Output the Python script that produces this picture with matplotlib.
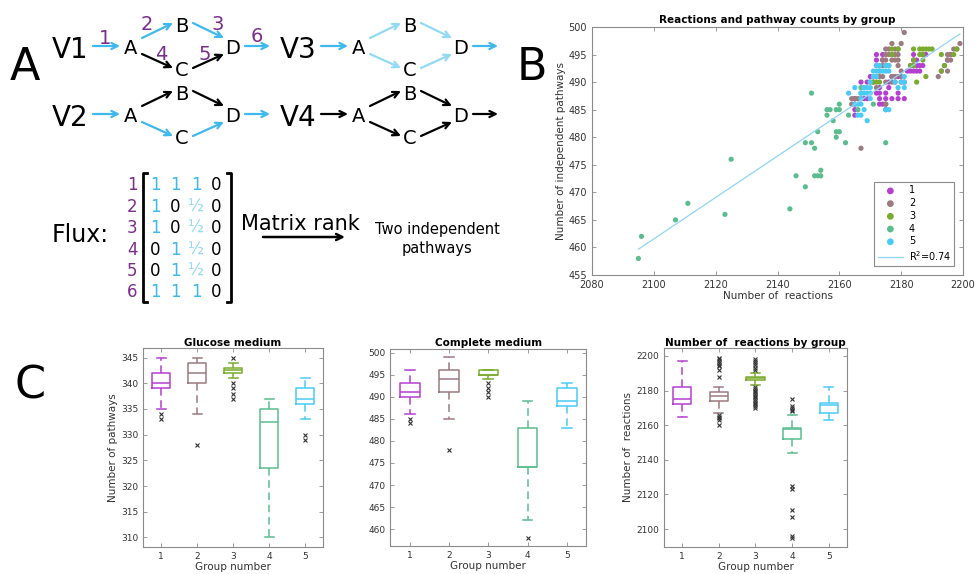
import numpy as np
import matplotlib
matplotlib.use('Agg')
import matplotlib.pyplot as plt

plt.rcParams['font.family'] = 'DejaVu Sans'

group_labels = ['1', '2', '3', '4', '5']
group_colors = ['#B53FD1', '#9C7A7F', '#79AB2C', '#5BBD8E', '#4ACBF7']
fit_label = r'R$^2$=0.74'

# Panel B: number of reactions for each pathway count, per group
g1_rows = {495: [2172, 2174, 2184, 2187, 2188, 2196], 494: [2172, 2174, 2184, 2185, 2195],
           493: [2183, 2184, 2185, 2186, 2187, 2194], 492: [2182, 2183, 2184, 2185, 2186, 2193],
           491: [2170, 2172, 2177, 2179], 490: [2167, 2169, 2171, 2176, 2178, 2181],
           489: [2173, 2176], 488: [2172, 2173, 2175, 2179],
           487: [2165, 2168, 2169, 2173, 2175, 2177, 2179, 2181], 486: [2165, 2173, 2174, 2175],
           485: [2165, 2175], 484: [2165]}
g2_rows = {499: [2181], 497: [2177, 2180, 2199], 496: [2175, 2176, 2178, 2179, 2197, 2198],
           495: [2175, 2176, 2177, 2178, 2179, 2195, 2196], 494: [2174, 2175, 2177, 2178, 2179, 2195, 2196],
           493: [2172, 2174, 2175, 2176, 2179], 492: [2173, 2180, 2195],
           491: [2173, 2174, 2177, 2178, 2180, 2192], 490: [2175, 2177, 2180], 489: [2172],
           487: [2164, 2165, 2166, 2167], 486: [2164, 2175], 478: [2167]}
g3_rows = {496: [2177, 2179, 2184, 2186, 2187, 2188, 2189, 2190, 2198], 495: [2177, 2186, 2187, 2193, 2197],
           494: [2184, 2187], 493: [2183, 2184, 2194], 492: [2193], 491: [2188],
           490: [2170, 2171, 2172, 2173, 2185], 489: [2168]}
g4_x = [2095, 2096, 2107, 2111, 2123, 2125, 2144, 2146, 2149, 2149, 2151, 2152, 2153, 2152, 2153,
        2154, 2154, 2151, 2156, 2157, 2156, 2158, 2159, 2160, 2159, 2159, 2160, 2160, 2162, 2163,
        2166, 2171, 2175, 2167, 2167]
g4_y = [458, 462, 465, 468, 466, 476, 467, 473, 471, 479, 479, 478, 481, 473, 473,
        473, 474, 488, 485, 485, 484, 483, 481, 481, 480, 485, 485, 486, 479, 484,
        485, 486, 479, 488, 489]
g5_rows = {493: [2172, 2173, 2175, 2176], 492: [2171, 2172, 2173, 2174, 2175, 2176],
           491: [2171, 2172, 2181], 490: [2170, 2178, 2180, 2181],
           489: [2165, 2168, 2169, 2170, 2179, 2181], 488: [2163, 2167, 2168, 2169, 2170],
           487: [2167, 2170], 486: [2165, 2166, 2167], 485: [2168, 2175, 2176],
           484: [2166, 2167], 483: [2169]}

# Panel C: box statistics per group
glucose_q1 = [339, 340, 342, 323.5, 336]
glucose_med = [340, 342, 342.5, 332.5, 337]
glucose_q3 = [342, 344, 343, 335, 339]
glucose_lo = [335, 334, 341, 310, 333]
glucose_hi = [345, 345, 344, 337, 341]
glucose_fliers = [[334, 333], [328], [345, 340, 339, 338, 337], [], [330, 329]]

complete_q1 = [490, 491, 495, 474, 488]
complete_med = [491, 494, 495, 474, 489]
complete_q3 = [493, 496, 496, 483, 492]
complete_lo = [486, 485, 494, 462, 483]
complete_hi = [496, 499, 496, 489, 493]
complete_fliers = [[485, 484], [478], [493, 492, 491, 490], [458], []]

reactions_q1 = [2172, 2174, 2186, 2152, 2167]
reactions_med = [2175, 2177, 2187, 2158, 2171.5]
reactions_q3 = [2182, 2179, 2188, 2158.5, 2173]
reactions_lo = [2165, 2167, 2183, 2144, 2163]
reactions_hi = [2197, 2182, 2190, 2166, 2182]
reactions_fliers = [[],
                    [2199, 2198, 2197, 2196, 2195, 2194, 2192, 2188, 2166, 2165, 2164, 2163, 2160],
                    [2198, 2197, 2196, 2195, 2193, 2192, 2182, 2181, 2180, 2179, 2178, 2177, 2176,
                     2175, 2174, 2173, 2172, 2171, 2170],
                    [2175, 2171, 2170, 2169, 2168, 2125, 2123, 2111, 2107, 2096, 2095],
                    []]

BLUE = '#3DB9EE'
LIGHT = '#92D9F5'
PURPLE = '#7B2D8E'
SPINE = '#8a8a8a'
TICKC = '#333333'


def expand(rows):
    xs = [x for y, row in rows.items() for x in row]
    ys = [y for y, row in rows.items() for x in row]
    return xs, ys


def style_axes(ax, fs):
    for s in ax.spines.values():
        s.set_color(SPINE)
        s.set_linewidth(0.8)
    ax.tick_params(direction='in', length=3, width=0.6, colors=SPINE, labelcolor=TICKC,
                   labelsize=fs, top=True, right=True)


fig = plt.figure(figsize=(9.75, 5.74), dpi=100)

# overlay in pixel coords for the diagram and panel letters
ov = fig.add_axes([0, 0, 1, 1], zorder=0)
ov.set_xlim(0, 975)
ov.set_ylim(574, 0)
ov.axis('off')

for letter, (px, py) in zip('ABC', [(25, 68), (532, 68), (30, 386)]):
    ov.text(px, py, letter, fontsize=32, ha='center', va='center')


def arrow(p0, p1, c, lw=1.6):
    ov.annotate('', xy=p1, xytext=p0,
                arrowprops=dict(arrowstyle='->', color=c, lw=lw, shrinkA=0, shrinkB=0,
                                mutation_scale=11))


def network(x0, y0, name, cols):
    # cols: in, A->B, B->D, A->C, C->D, out
    ov.text(x0, y0, name, fontsize=20, ha='center', va='center_baseline')
    ax_ = x0 + 61
    nodes = {'A': (ax_, y0), 'B': (ax_ + 51, y0 - 22), 'C': (ax_ + 51, y0 + 21), 'D': (ax_ + 102, y0)}
    for k, (nx, ny) in nodes.items():
        ov.text(nx, ny, k, fontsize=14, ha='center', va='center_baseline')
    arrow((x0 + 23, y0 - 1), (x0 + 50, y0 - 1), cols[0])
    arrow((ax_ + 11, y0 - 9), (ax_ + 42, y0 - 24), cols[1])
    arrow((ax_ + 62, y0 - 24), (ax_ + 93, y0 - 9), cols[2])
    arrow((ax_ + 11, y0 + 7), (ax_ + 42, y0 + 21), cols[3])
    arrow((ax_ + 62, y0 + 21), (ax_ + 93, y0 + 7), cols[4])
    arrow((ax_ + 114, y0 - 1), (ax_ + 139, y0 - 1), cols[5])


network(70, 47, 'V1', [BLUE, BLUE, BLUE, 'black', 'black', BLUE])
network(70, 115, 'V2', [BLUE, 'black', 'black', BLUE, BLUE, BLUE])
network(298, 47, 'V3', [BLUE, LIGHT, LIGHT, LIGHT, LIGHT, BLUE])
network(298, 115, 'V4', ['black'] * 6)

for num, (px, py) in zip('123456', [(105, 36), (147, 23), (218, 23), (161, 52), (205, 52), (257, 34)]):
    ov.text(px, py, num, fontsize=14, color=PURPLE, ha='center', va='center_baseline')

# flux matrix
flux = [['1', '1', '1', '0'], ['1', '0', '½', '0'], ['1', '0', '½', '0'],
        ['0', '1', '½', '0'], ['0', '1', '½', '0'], ['1', '1', '1', '0']]
ov.text(80, 233, 'Flux:', fontsize=17, ha='center', va='center_baseline')
row_y = [183, 205, 226, 248, 269, 290]
col_x = [155, 175, 196, 216]
for i, row in enumerate(flux):
    ov.text(132, row_y[i], str(i + 1), fontsize=12, color=PURPLE, ha='center', va='center_baseline')
    for j, v in enumerate(row):
        c = BLUE if v == '1' else (LIGHT if v == '½' else 'black')
        ov.text(col_x[j], row_y[i], v, fontsize=12, color=c, ha='center', va='center_baseline')
ov.plot([147, 143, 143, 147], [173, 173, 302, 302], color='black', lw=2)
ov.plot([227, 231, 231, 227], [173, 173, 302, 302], color='black', lw=2)
ov.text(300, 222, 'Matrix rank', fontsize=15, ha='center', va='center_baseline')
arrow((263, 237), (345, 237), 'black', lw=1.8)
ov.text(437, 239, 'Two independent\npathways', fontsize=10.5, ha='center', va='center',
        linespacing=1.3)

# Panel B
axb = fig.add_axes([0.6072, 0.5209, 0.3805, 0.4321], zorder=2)
g_x, g_y = [], []
for rows in [g1_rows, g2_rows, g3_rows]:
    xs, ys = expand(rows)
    g_x.append(xs)
    g_y.append(ys)
g_x.append(g4_x)
g_y.append(g4_y)
xs, ys = expand(g5_rows)
g_x.append(xs)
g_y.append(ys)

handles = []
for k in range(5):
    h = axb.scatter(g_x[k], g_y[k], s=14, color=group_colors[k], edgecolors='none',
                    label=group_labels[k], zorder=3)
    handles.append(h)
all_x = np.concatenate([np.array(v, float) for v in g_x])
all_y = np.concatenate([np.array(v, float) for v in g_y])
slope, icpt = np.polyfit(all_x, all_y, 1)
fx = np.array([all_x.min(), all_x.max()])
fl, = axb.plot(fx, slope * fx + icpt, color='#8FD6F5', lw=0.9, label=fit_label, zorder=4)
handles.append(fl)
axb.set_xlim(2080, 2200)
axb.set_ylim(455, 500)
axb.set_xticks(np.arange(2080, 2201, 20))
axb.set_yticks(np.arange(455, 501, 5))
style_axes(axb, 7)
axb.set_title('Reactions and pathway counts by group', fontsize=7.5, fontweight='bold', pad=3)
axb.set_xlabel('Number of  reactions', fontsize=7.5, color='#333333', labelpad=1)
axb.set_ylabel('Number of independent pathways', fontsize=7.5, color='#333333', labelpad=2)
leg = axb.legend(handles=handles, loc='lower right', fontsize=7, frameon=True, fancybox=False,
                 edgecolor=SPINE, framealpha=1, labelspacing=0.28, borderaxespad=0.9,
                 handlelength=2.6, handletextpad=0.6, markerscale=1.3, borderpad=0.35)
leg.get_frame().set_linewidth(0.8)


# Panel C
def boxpanel(rect, q1, med, q3, lo, hi, fliers, ylim, yticks, title, ylabel):
    ax = fig.add_axes(rect, zorder=2)
    stats = []
    for i in range(5):
        stats.append(dict(q1=q1[i], med=med[i], q3=q3[i], whislo=lo[i], whishi=hi[i],
                          fliers=fliers[i], label=group_labels[i]))
    parts = ax.bxp(stats, positions=range(1, 6), widths=0.5, capwidths=0.25,
                   flierprops=dict(marker='x', markeredgecolor='#333333', markersize=3.2,
                                   markeredgewidth=0.8, linestyle='none'))
    for i in range(5):
        c = group_colors[i]
        parts['boxes'][i].set(color=c, linewidth=1.1)
        parts['medians'][i].set(color=c, linewidth=1.1)
        for w in parts['whiskers'][2 * i:2 * i + 2]:
            w.set(color=c, linestyle=(0, (5, 3)), linewidth=1.1)
        for cp in parts['caps'][2 * i:2 * i + 2]:
            cp.set(color=c, linewidth=1.1)
    ax.set_xlim(0.5, 5.5)
    ax.set_ylim(*ylim)
    ax.set_yticks(yticks)
    style_axes(ax, 6.5)
    ax.set_title(title, fontsize=7.5, fontweight='bold', pad=2)
    ax.set_xlabel('Group number', fontsize=7.5, color='#333333', labelpad=1)
    if ylabel:
        ax.set_ylabel(ylabel, fontsize=7.5, color='#333333', labelpad=2)
    return ax


boxpanel([0.1467, 0.0476, 0.1846, 0.3456], glucose_q1, glucose_med, glucose_q3, glucose_lo,
         glucose_hi, glucose_fliers, (308.2, 346.8), np.arange(310, 346, 5),
         'Glucose medium', 'Number of pathways')
boxpanel([0.4004, 0.0488, 0.2010, 0.3432], complete_q1, complete_med, complete_q3, complete_lo,
         complete_hi, complete_fliers, (456.2, 500.8), np.arange(460, 501, 5),
         'Complete medium', None)
boxpanel([0.6810, 0.0476, 0.1877, 0.3456], reactions_q1, reactions_med, reactions_q3, reactions_lo,
         reactions_hi, reactions_fliers, (2089.8, 2204.4), np.arange(2100, 2201, 20),
         'Number of  reactions by group', 'Number of  reactions')

fig.savefig('out.png', dpi=100)
